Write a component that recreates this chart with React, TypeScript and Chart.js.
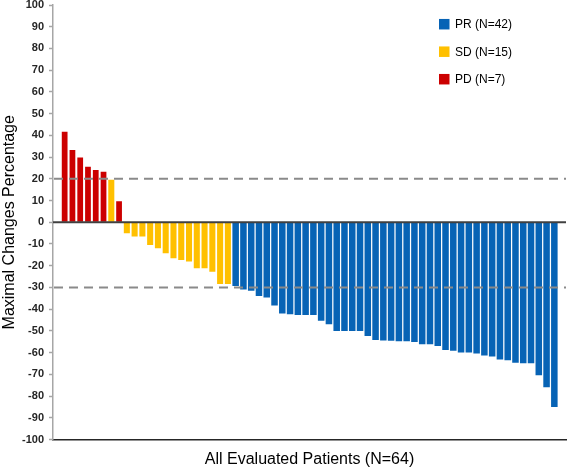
import { useEffect, useRef } from 'react';
import { Chart, registerables } from 'chart.js';

Chart.register(...registerables);

// Response category of each evaluated patient, in waterfall order
const responses: string[] = [
  'PD', 'PD', 'PD', 'PD', 'PD', 'PD', 'SD', 'PD',
  'SD', 'SD', 'SD', 'SD', 'SD', 'SD', 'SD', 'SD', 'SD', 'SD', 'SD', 'SD', 'SD', 'SD',
  'PR', 'PR', 'PR', 'PR', 'PR', 'PR', 'PR', 'PR', 'PR', 'PR',
  'PR', 'PR', 'PR', 'PR', 'PR', 'PR', 'PR', 'PR', 'PR', 'PR',
  'PR', 'PR', 'PR', 'PR', 'PR', 'PR', 'PR', 'PR', 'PR', 'PR',
  'PR', 'PR', 'PR', 'PR', 'PR', 'PR', 'PR', 'PR', 'PR', 'PR',
  'PR', 'PR',
];

// Maximal change (%) of each patient, same order
const changes: number[] = [
  41.7, 33.3, 29.8, 25.6, 24.0, 23.3, 19.6, 9.7,
  -5.1, -6.6, -6.6, -10.5, -12.0, -14.3, -16.6, -17.4, -18.1, -21.2, -21.2, -22.8, -28.4, -28.4,
  -29.4, -30.9, -31.5, -34.0, -34.6, -38.3, -42.0, -42.4, -42.7, -42.7,
  -42.7, -45.3, -46.9, -50.0, -50.0, -50.0, -50.0, -52.4, -54.2, -54.4,
  -54.6, -54.8, -54.8, -55.1, -56.1, -56.1, -57.0, -58.8, -59.2, -59.9,
  -59.9, -60.4, -61.3, -61.8, -63.2, -63.5, -64.7, -64.9, -64.9, -70.4,
  -76.0, -85.0,
];

const groups: string[] = ['PR', 'SD', 'PD'];
const groupLabels: string[] = ['PR (N=42)', 'SD (N=15)', 'PD (N=7)'];
const thresholds: number[] = [20, -30];

const groupColors: Record<string, string> = { PR: '#0763B5', SD: '#FFC000', PD: '#CC0000' };
const groupBarPct: Record<string, number> = { PR: 0.84, SD: 0.78, PD: 0.74 };

const FONT = '"Liberation Sans", Arial, Helvetica, sans-serif';

const refLinePlugin = {
  id: 'refLines',
  afterDatasetsDraw(chart: any) {
    const { ctx, chartArea, scales } = chart;
    const y = scales.y;
    ctx.save();
    ctx.strokeStyle = '#404040';
    ctx.lineWidth = 2;
    ctx.setLineDash([]);
    const y0 = y.getPixelForValue(0);
    ctx.beginPath();
    ctx.moveTo(chartArea.left, y0);
    ctx.lineTo(chartArea.right, y0);
    ctx.stroke();
    ctx.strokeStyle = '#8a8a8a';
    ctx.lineWidth = 2;
    ctx.setLineDash([9, 6]);
    thresholds.forEach((t) => {
      const py = y.getPixelForValue(t);
      ctx.beginPath();
      ctx.moveTo(chartArea.left + 1, py);
      ctx.lineTo(chartArea.right, py);
      ctx.stroke();
    });
    ctx.restore();
  },
};

const boxLegendPlugin = {
  id: 'boxLegend',
  afterDraw(chart: any) {
    const { ctx, chartArea } = chart;
    const x = chartArea.right - 127;
    ctx.save();
    chart.data.datasets.forEach((ds: any, i: number) => {
      const cy = chartArea.top + 19.2 + i * 27.5;
      ctx.fillStyle = ds.backgroundColor;
      ctx.fillRect(x, cy - 5.25, 10.5, 10.5);
      ctx.fillStyle = '#000000';
      ctx.font = `12px ${FONT}`;
      ctx.textBaseline = 'middle';
      ctx.textAlign = 'left';
      ctx.fillText(ds.label, x + 16, cy + 0.5);
    });
    ctx.restore();
  },
};

export default function App() {
  const canvasRef = useRef<HTMLCanvasElement | null>(null);

  useEffect(() => {
    document.body.style.margin = '0';
    const canvas = canvasRef.current;
    if (!canvas) return;

    const labels = ['', ...changes.map((_, i) => `${i + 1}`), ''];
    const datasets = groups.map((g, gi) => ({
      label: groupLabels[gi],
      data: [null, ...changes.map((v, i) => (responses[i] === g ? v : null)), null],
      backgroundColor: groupColors[g],
      borderWidth: 0,
      barPercentage: groupBarPct[g],
      categoryPercentage: 1,
    }));

    const chart = new Chart(canvas, {
      type: 'bar',
      data: { labels, datasets },
      plugins: [refLinePlugin, boxLegendPlugin],
      options: {
        animation: false,
        responsive: false,
        devicePixelRatio: 1,
        layout: { padding: { top: 5, right: 1, left: 0, bottom: 0 } },
        plugins: {
          legend: { display: false },
          tooltip: { enabled: false },
        },
        scales: {
          x: {
            stacked: true,
            ticks: { display: false },
            grid: { display: false },
            border: { display: true, color: '#262626', width: 1.5 },
            title: {
              display: true,
              text: 'All Evaluated Patients (N=64)',
              color: '#000000',
              font: { family: FONT, size: 16 },
              padding: { top: 10, bottom: 1 },
            },
            afterFit: (s: any) => {
              s.height = 30.5;
              s.paddingLeft = 0;
              s.paddingRight = 0;
            },
          },
          y: {
            stacked: true,
            min: -100,
            max: 100,
            ticks: {
              stepSize: 10,
              padding: 5,
              color: '#262626',
              font: { family: FONT, size: 11, weight: 'bold' },
            },
            grid: {
              drawOnChartArea: false,
              drawTicks: true,
              tickLength: 4,
              tickColor: '#a6a6a6',
              tickWidth: 1.5,
            },
            border: { display: true, color: '#a6a6a6', width: 1.5 },
            title: {
              display: true,
              text: 'Maximal Changes Percentage',
              color: '#000000',
              font: { family: FONT, size: 16 },
              padding: { top: 0, bottom: 0 },
            },
            afterFit: (s: any) => {
              s.width = 53;
              s.paddingTop = 0;
              s.paddingBottom = 0;
            },
          },
        },
      },
    });

    return () => chart.destroy();
  }, []);

  return (
    <div style={{ width: 567, height: 470 }}>
      <canvas ref={canvasRef} width={567} height={470} />
    </div>
  );
}
